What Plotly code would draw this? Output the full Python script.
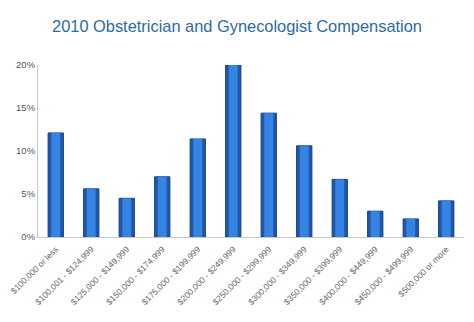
import plotly.graph_objects as go

categories = ["$100,000 or less", "$100,001 - $124,999", "$125,000 - $149,999",
              "$150,000 - $174,999", "$175,000 - $199,999", "$200,000 - $249,999",
              "$250,000 - $299,999", "$300,000 - $349,999", "$350,000 - $399,999",
              "$400,000 - $449,999", "$450,000 - $499,999", "$500,000 or more"]
values = [12.1, 5.6, 4.5, 7.0, 11.4, 20.0, 14.4, 10.6, 6.7, 3.0, 2.1, 4.2]
tick_vals = [0, 5, 10, 15, 20]
tick_text = ["0%", "5%", "10%", "15%", "20%"]

fig = go.Figure()
fig.add_trace(go.Bar(
    x=categories, y=values, width=0.43,
    marker=dict(color="#1f58ad", line=dict(color="#173f7a", width=1)),
    hoverinfo="x+y",
))
fig.add_trace(go.Bar(
    x=categories, y=values, width=0.25,
    marker=dict(color="#3584e4", line=dict(width=0)),
    hoverinfo="skip",
))
fig.update_layout(
    width=474, height=322,
    margin=dict(l=38, r=10, t=65, b=85),
    paper_bgcolor="white", plot_bgcolor="white",
    showlegend=False, barmode="overlay",
    title=dict(text="2010 Obstetrician and Gynecologist Compensation",
               x=0.5, xanchor="center", y=0.918, yanchor="middle",
               font=dict(family="Liberation Sans, Arial", size=16.4, color="#2b6aa3")),
    font=dict(family="Liberation Sans, Arial", color="#555555"),
)
fig.update_xaxes(tickangle=-45, tickfont=dict(size=8.5, color="#666666"),
                 showline=True, linecolor="#c8c8c8", linewidth=1,
                 showgrid=False, ticks="", ticklabelstandoff=3,
                 automargin=False, fixedrange=True)
fig.update_yaxes(range=[0, 20], tickvals=tick_vals, ticktext=tick_text,
                 tickfont=dict(size=9.5, color="#555555"),
                 showline=True, linecolor="#c8c8c8", linewidth=1,
                 showgrid=False, zeroline=False, ticks="",
                 automargin=False, fixedrange=True)
fig.write_html("out.html")
